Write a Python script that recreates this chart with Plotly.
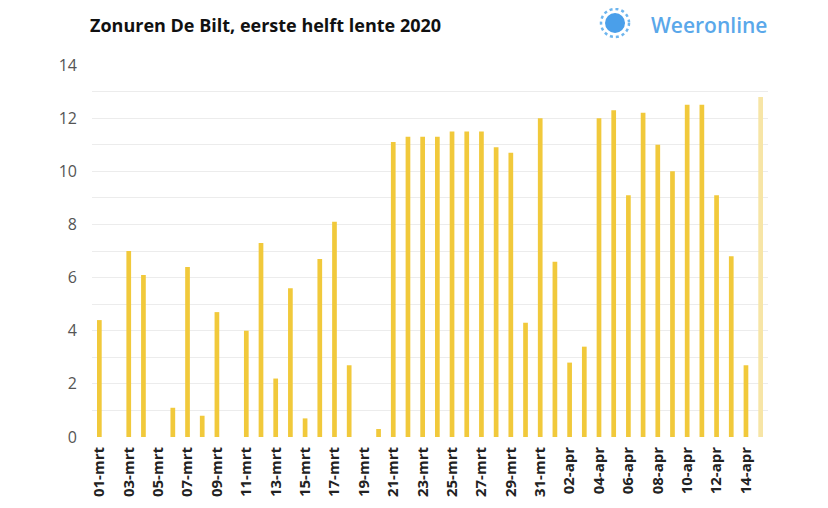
import plotly.graph_objects as go

days = (["%02d-mrt" % d for d in range(1, 32)] +
        ["%02d-apr" % d for d in range(1, 16)])

sun_hours = [4.4, 0.0, 7.0, 6.1, 0.0, 1.1, 6.4, 0.8, 4.7, 0.0,
             4.0, 7.3, 2.2, 5.6, 0.7, 6.7, 8.1, 2.7, 0.0, 0.3,
             11.1, 11.3, 11.3, 11.3, 11.5, 11.5, 11.5, 10.9, 10.7, 4.3,
             12.0,
             6.6, 2.8, 3.4, 12.0, 12.3, 9.1, 12.2, 11.0, 10.0, 12.5,
             12.5, 9.1, 6.8, 2.7, 12.8]

tick_labels = days[::2]
y_ticks = [0, 2, 4, 6, 8, 10, 12, 14]

bar_color = "#F1C93B"
last_color = "#F7E5A6"
colors = [bar_color] * (len(days) - 1) + [last_color]

fig = go.Figure(go.Bar(
    x=days, y=sun_hours,
    marker=dict(color=colors, line=dict(width=0)),
    hoverinfo="x+y",
))

fig.update_layout(
    width=828, height=508,
    margin=dict(l=84, r=68, t=57, b=79),
    paper_bgcolor="white", plot_bgcolor="white",
    bargap=0.68,
    showlegend=False,
    font=dict(family="Open Sans", color="#555"),
    xaxis=dict(
        type="category",
        range=[-0.5, len(days) - 0.5],
        tickmode="array", tickvals=tick_labels, ticktext=tick_labels,
        tickangle=-90,
        tickfont=dict(family="Open Sans", size=15, color="#222", weight="bold"),
        showgrid=False, showline=False, ticks="",
        ticklabelstandoff=6,
    ),
    yaxis=dict(
        range=[0, 14],
        tickvals=y_ticks,
        tickfont=dict(family="Open Sans", size=16, color="#555"),
        showgrid=True, gridcolor="#ececec", gridwidth=1,
        minor=dict(dtick=1, showgrid=True, gridcolor="#ececec", gridwidth=1),
        zeroline=False, showline=False, ticks="",
        ticklabelstandoff=14,
    ),
    annotations=[
        dict(text="<b>Zonuren De Bilt, eerste helft lente 2020</b>",
             xref="paper", yref="paper", x=-0.006, y=1.1075,
             xanchor="left", yanchor="middle", showarrow=False,
             font=dict(family="Open Sans", size=18, color="#111")),
        dict(text="Weeronline",
             xref="paper", yref="paper", x=0.8240, y=1.1075,
             xanchor="left", yanchor="middle", showarrow=False,
             font=dict(family="Open Sans", size=21, color="#5AA8EA",
                       weight=600)),
    ],
    shapes=[
        dict(type="circle", xref="paper", yref="paper",
             xsizemode="pixel", ysizemode="pixel",
             xanchor=0.7737, yanchor=1.113,
             x0=-10, x1=10, y0=-10, y1=10,
             fillcolor="#4A9FEA", line=dict(width=0)),
        dict(type="circle", xref="paper", yref="paper",
             xsizemode="pixel", ysizemode="pixel",
             xanchor=0.7737, yanchor=1.113,
             x0=-14, x1=14, y0=-14, y1=14,
             fillcolor="rgba(0,0,0,0)",
             line=dict(width=2.5, color="#6DB5EE", dash="dot")),
    ],
)

fig.write_html("out.html")
